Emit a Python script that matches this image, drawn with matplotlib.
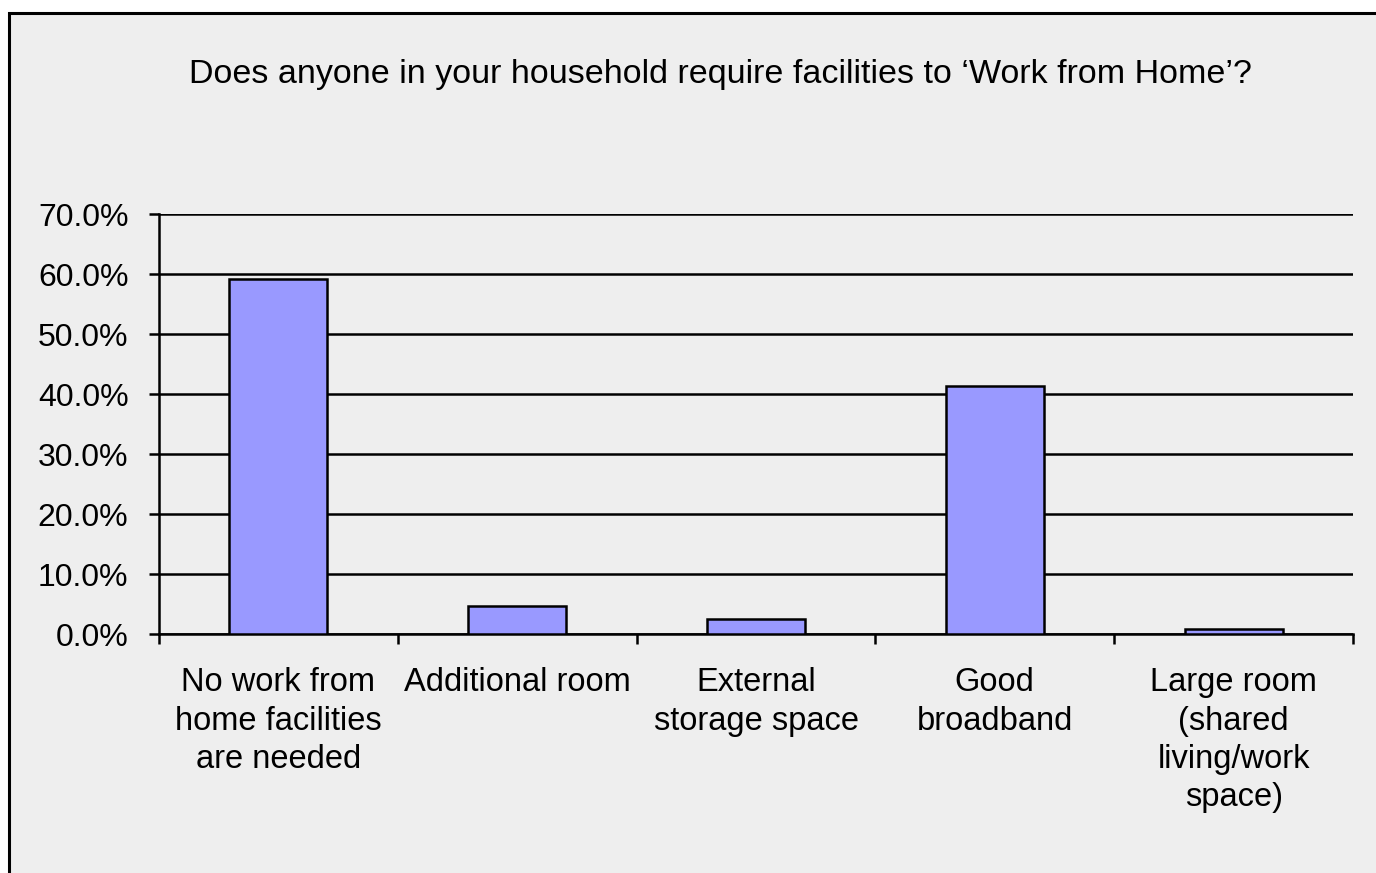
import matplotlib
matplotlib.use("Agg")
import matplotlib.pyplot as plt
from matplotlib.patches import Rectangle
from matplotlib.ticker import FuncFormatter, FixedLocator

categories = ["No work from\nhome facilities\nare needed", "Additional room",
              "External\nstorage space", "Good\nbroadband",
              "Large room\n(shared\nliving/work\nspace)"]
values = [59.2, 4.6, 2.5, 41.3, 0.8]
yticks = [0, 10, 20, 30, 40, 50, 60, 70]
title = "Does anyone in your household require facilities to \u2018Work from Home\u2019?"

plt.rcParams['font.family'] = ['Liberation Sans', 'DejaVu Sans']

fig = plt.figure(figsize=(13.76, 8.73), dpi=100)
fig.patch.set_facecolor("white")
frame = Rectangle((9/1376, -0.05), 1.2, 1 - 13/873 + 0.05, transform=fig.transFigure,
                  facecolor="#EEEEEE", edgecolor="black", linewidth=2.2, zorder=-10)
fig.patches.append(frame)

ax = fig.add_axes([159/1376, 1 - 634/873, (1353-159)/1376, (634-214)/873])
ax.set_zorder(5)
ax.set_facecolor("none")
x = list(range(len(categories)))
ax.bar(x, values, width=0.41, color="#9999FF", edgecolor="black", linewidth=1.8, zorder=3)
ax.set_xlim(-0.5, len(categories) - 0.5)
ax.set_ylim(0, 70)
ax.set_yticks(yticks)
ax.yaxis.set_major_formatter(FuncFormatter(lambda v, p: f"{v:.1f}%"))
ax.grid(axis="y", color="black", linewidth=1.8, zorder=1)
ax.set_axisbelow(True)
ax.set_xticks(x)
ax.set_xticklabels(categories, fontsize=23.5, linespacing=1.3)
ax.xaxis.set_minor_locator(FixedLocator([i - 0.5 for i in range(len(categories) + 1)]))
ax.tick_params(axis="x", which="major", length=0, pad=24)
ax.tick_params(axis="x", which="minor", length=7, width=1.8, direction="out")
ax.tick_params(axis="y", length=7, width=1.8, labelsize=23, pad=15)
for s in ["top", "right"]:
    ax.spines[s].set_visible(False)
for s in ["left", "bottom"]:
    ax.spines[s].set_linewidth(1.8)
fig.text(720/1376, 1 - 74/873, title, ha="center", va="center", fontsize=24.5)

fig.savefig("out.png", dpi=100)
